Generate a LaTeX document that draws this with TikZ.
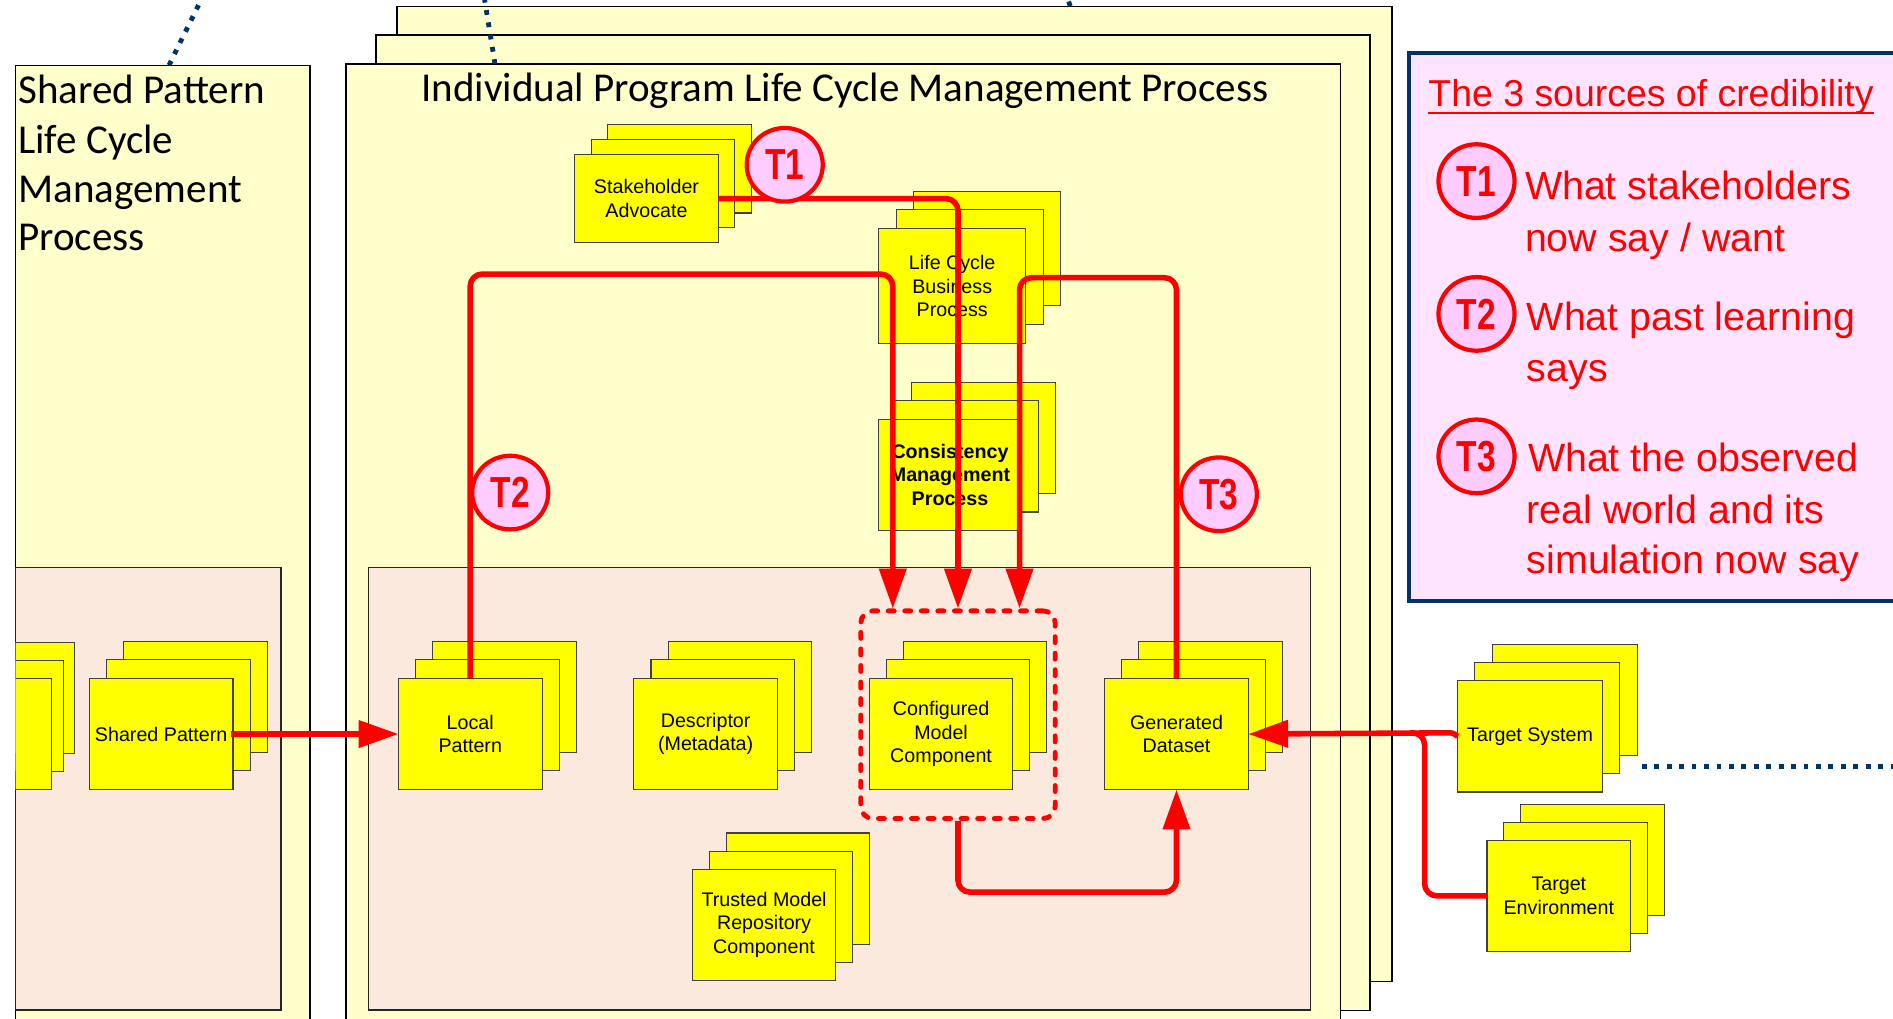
\documentclass[tikz,border=0pt]{standalone}
\usepackage{fontspec}
\usetikzlibrary{shapes.geometric,arrows.meta}
\newfontfamily\arialf{Liberation Sans}
\newfontfamily\calib{Carlito}
\newfontfamily\narrowf[FakeStretch=0.77]{Liberation Sans}
\definecolor{lyellow}{RGB}{255,255,204}
\definecolor{salmon}{RGB}{251,233,221}
\definecolor{cardy}{RGB}{255,255,0}
\definecolor{badgepink}{RGB}{255,204,255}
\definecolor{legpink}{RGB}{255,228,255}
\definecolor{navy}{RGB}{0,51,102}
\tikzset{
 lcbox/.style={fill=lyellow, draw=black, line width=1.2pt},
 salbox/.style={fill=salmon, draw=black!85, line width=1.2pt},
 cardshape/.style={fill=cardy, draw=black!75, line width=0.9pt},
 card/.style={cardshape, align=center, inner sep=1pt, outer sep=0pt, font=\arialf\fontsize{16.3}{19.5}\selectfont},
 redline/.style={draw=red, line width=4.6pt, rounded corners=10pt, line join=round},
 redarrow/.style={redline, -{Triangle[length=33pt, width=22pt]}},
 badge/.style={ellipse, draw=red, line width=3.5pt, fill=badgepink, minimum width=63pt, minimum height=61pt, inner sep=0pt, text=red, font=\narrowf\bfseries\fontsize{36}{36}\selectfont},
 bluedot/.style={draw=navy, line width=4pt, dash pattern=on 4pt off 6.3pt},
 legtitle/.style={anchor=base west, inner sep=0pt, text=red, font=\arialf\fontsize{31}{31}\selectfont},
 legtext/.style={anchor=base west, inner sep=0pt, text=red, font=\arialf\fontsize{32.6}{32.6}\selectfont},
 bigtext/.style={anchor=base west, inner sep=0pt, font=\calib\fontsize{34}{34}\selectfont},
 grpbox/.style={draw=red, line width=4pt, dash pattern=on 5pt off 8.7pt, line cap=round, rounded corners=10pt, minimum width=161pt, minimum height=172pt, inner sep=0pt},
}
% #1 name, #2 left, #3 top, #4 w, #5 h, #6 dx, #7 dy, #8 text
\newcommand{\cstack}[8]{%
 \draw[cardshape] ({#2+2*#6},{#3+2*#7}) rectangle ++(#4,#5);
 \draw[cardshape] ({#2+#6},{#3+#7}) rectangle ++(#4,#5);
 \node[card, minimum width=#4pt, minimum height=#5pt, anchor=north west] (#1) at (#2,#3) {#8};
}
\begin{document}
\begin{tikzpicture}[x=1pt, y=-1pt]
\useasboundingbox (0,0) rectangle (1568,844);
\clip (0,0) rectangle (1568,844);
\fill[white] (0,0) rectangle (1568,844);

% ---- Shared pattern life cycle process
\draw[lcbox] (12.9,54.4) rectangle (256.9,900);
\draw[salbox] (12.9,470) rectangle (232.6,836.6);
\begin{scope}
 \clip (12.9,0) rectangle (232.6,844);
 \cstack{spx}{-76}{562}{119}{92}{9.3}{-15}{}
\end{scope}
\cstack{sp}{74}{562}{119}{92}{14.2}{-15.5}{Shared Pattern}
\draw[bluedot] (140,54) -- (168,-3);
\node[bigtext] (spt1) at (15,86) {Shared Pattern};
\node[bigtext] (spt2) at (15,127) {Life Cycle};
\node[bigtext] (spt3) at (15,167.6) {Management};
\node[bigtext] (spt4) at (15,207.6) {Process};

% ---- Individual program stack
\draw[lcbox] (329,5.5) rectangle (1153,813);
\draw[lcbox] (311.3,29) rectangle (1134.7,837);
\draw[bluedot] (886.5,5) -- (884,-2);
\draw[lcbox] (286.6,53) rectangle (1110.4,900);
\draw[bluedot] (410,53) -- (401,-3);
\draw[salbox] (305.3,470) rectangle (1085.6,836.6);
\node[bigtext] (iptitle) at (348.7,84.2) {Individual Program Life Cycle Management Process};

\cstack{sa}{476}{128}{119}{73}{13.7}{-12.3}{Stakeholder\\Advocate}
\cstack{lcb}{727.7}{189.4}{122}{95}{14.5}{-15.5}{Life Cycle\\Business\\Process}
\cstack{cmp}{727.4}{347.3}{119}{92}{13.8}{-15.2}{\textbf{Consistency}\\\textbf{Management}\\\textbf{Process}}
\cstack{lp}{330}{562}{119}{92}{14.2}{-15.5}{Local\\Pattern}
\cstack{desc}{525}{562}{119}{92}{14.2}{-15.5}{Descriptor\\(Metadata)}
\cstack{cmc}{720}{562}{119}{92}{14}{-15.5}{Configured\\Model\\Component}
\cstack{gd}{915}{562}{119}{92}{14}{-15.5}{Generated\\Dataset}
\cstack{tmr}{573.4}{720}{119}{92}{14}{-15}{Trusted Model\\Repository\\Component}

\node[grpbox] (grp) at (793.5,592) {};
\coordinate (inA) at ([xshift=-54pt]grp.north);
\coordinate (inB) at (grp.north);
\coordinate (inC) at ([xshift=51pt]grp.north);

% ---- external target cards
\cstack{ts}{1207.4}{564}{120}{92}{14.3}{-15}{Target System}
\cstack{te}{1231.7}{696}{119}{92}{14}{-15}{Target\\Environment}
\draw[bluedot] (1360,635) -- (1572,635);

% ---- red connectors
\draw[redarrow] ([xshift=-2pt]sp.east) -- (lp.west);
\draw[redarrow] (sa.east) -| (inB);
\draw[redarrow] (lp.north) |- (inA |- 0,227) -- (inA);
\draw[redarrow] (gd.north) |- (inC |- 0,230) -- (inC);
\draw[redarrow] (grp.south) |- (gd.south |- 0,739) -- (gd.south);
\coordinate (tj) at (1180,607);
\draw[redarrow, rounded corners=2pt] (ts.west) -- ++(-4,-3) -- (gd.east);
\draw[redline] (te.west) -| (tj) -- ++(-12,0);

% ---- badges
\node[badge] (b1) at (650,136.5) {T1};
\node[badge] (b2) at (422.6,408) {T2};
\node[badge] (b3) at (1009.6,409.4) {T3};

% ---- legend
\draw[fill=legpink, draw=navy, line width=3.3pt] (1167,43.5) rectangle (1600,498);
\node[legtitle] (lgt) at (1183,88.4) {The 3 sources of credibility};
\draw[red, line width=1.6pt] ([yshift=-5pt]lgt.base west) -- ([yshift=-5pt]lgt.base east);
\node[badge] (l1) at (1223,150) {T1};
\node[badge] (l2) at (1223,260) {T2};
\node[badge] (l3) at (1223,378) {T3};
\node[legtext] (l1a) at (1263,165.4) {What stakeholders};
\node[legtext] (l1b) at (1263,208) {now say / want};
\node[legtext] (l2a) at (1264.5,273.5) {What past learning};
\node[legtext] (l2b) at (1264.5,316) {says};
\node[legtext] (l3a) at (1265.5,390.7) {What the observed};
\node[legtext] (l3b) at (1264.5,434) {real world and its};
\node[legtext] (l3c) at (1264.5,475) {simulation now say};
\end{tikzpicture}
\end{document}
